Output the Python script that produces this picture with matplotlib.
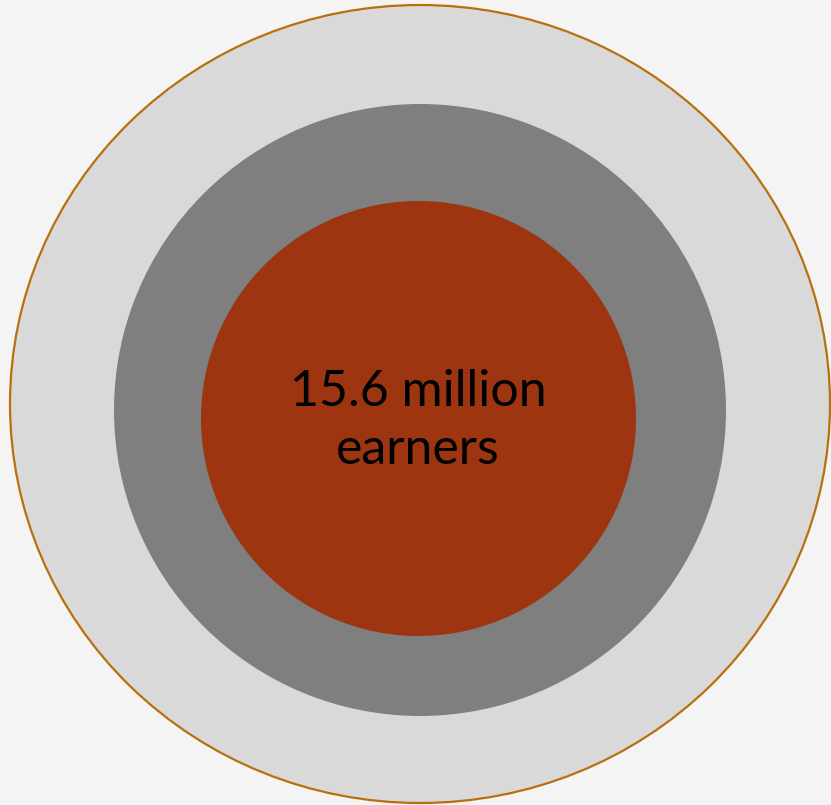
import matplotlib.pyplot as plt
from matplotlib.patches import Ellipse

# concentric rings, outermost first (pixel units of the original picture)
ring_names = ["outer", "middle", "inner"]
ring_cx = [420, 420, 418.5]
ring_cy = [404, 410, 418.5]
ring_w = [820, 612, 435]
ring_h = [798, 612, 435]
ring_colors = ["#d9d9d9", "#7f7f7f", "#9c3510"]
ring_edges = ["#b8700f", "none", "none"]

center_label = "15.6 million\nearners"

fig = plt.figure(figsize=(8.31, 8.05), dpi=100)
fig.patch.set_facecolor("#f4f4f4")
ax = fig.add_axes([0, 0, 1, 1])
ax.set_xlim(0, 831)
ax.set_ylim(805, 0)
ax.axis("off")

for name, cx, cy, w, h, fc, ec in zip(ring_names, ring_cx, ring_cy, ring_w, ring_h,
                                      ring_colors, ring_edges):
    lw = 1.6 if ec != "none" else 0
    ax.add_patch(Ellipse((cx, cy), w, h, facecolor=fc, edgecolor=ec, linewidth=lw))

ax.text(418, 421, center_label, ha="center", va="center", fontsize=36,
        family=["Lato", "DejaVu Sans"], color="black", linespacing=1.3)

fig.savefig("out.png", dpi=100, facecolor=fig.get_facecolor())
